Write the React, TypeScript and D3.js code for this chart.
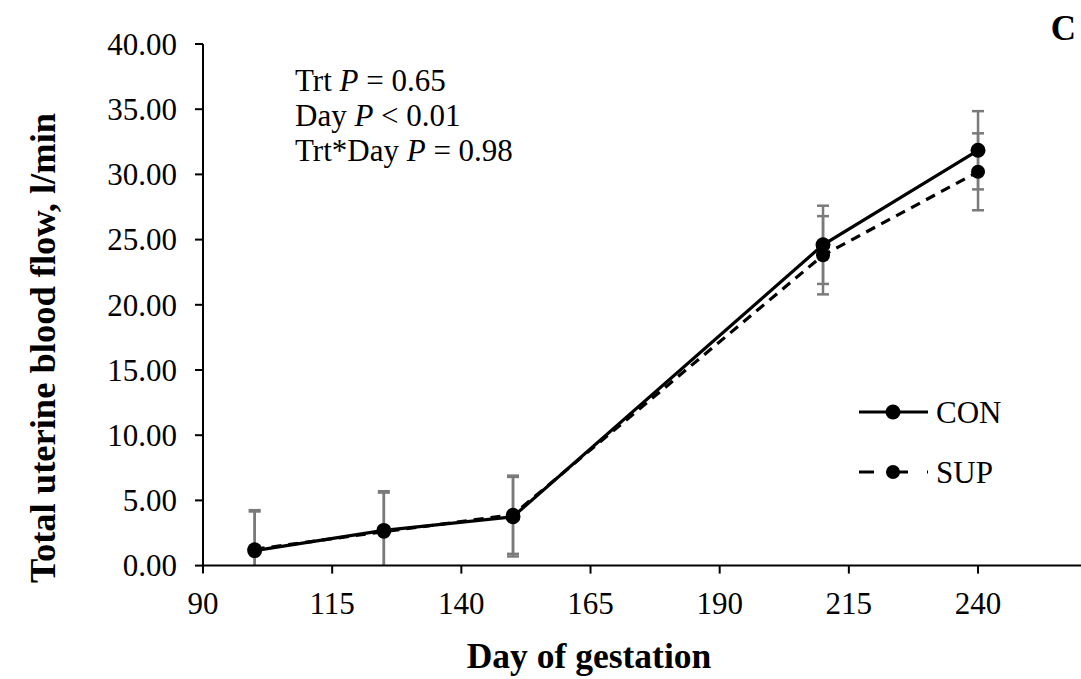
import React from "react";
import * as d3 from "d3";

const days = [100, 125, 150, 210, 240];
const conValues = [1.15, 2.7, 3.75, 24.6, 31.85];
const supValues = [1.25, 2.6, 3.9, 23.8, 30.2];
const conErr = [3.0, 3.0, 3.05, 3.0, 3.0];
const supErr = [3.0, 3.0, 3.0, 3.0, 2.95];
const xTicks = [90, 115, 140, 165, 190, 215, 240];
const yTicks = [0, 5, 10, 15, 20, 25, 30, 35, 40];
const statLines = [
  { pre: "Trt ", post: " = 0.65" },
  { pre: "Day ", post: " < 0.01" },
  { pre: "Trt*Day ", post: " = 0.98" },
];
const seriesNames = ["CON", "SUP"];

const W = 1081;
const H = 679;
const FONT = "'Liberation Serif', 'Times New Roman', serif";

export default function App() {
  const x = d3.scaleLinear().domain([90, 265]).range([203, 1107.2]);
  const y = d3.scaleLinear().domain([0, 40]).range([565.6, 44]);
  const line = d3
    .line<number>()
    .x((_, i) => x(days[i]))
    .y((d) => y(d));

  const series = [
    { name: seriesNames[0], vals: conValues, err: conErr, dash: undefined as string | undefined, r: 7.5 },
    { name: seriesNames[1], vals: supValues, err: supErr, dash: "10,7", r: 7 },
  ];

  const gray = "#7a7a7a";

  return (
    <div style={{ position: "absolute", left: 0, top: 0 }}>
      <svg width={W} height={H} style={{ display: "block", background: "#fff", fontFamily: FONT }}>
        <rect x={0} y={0} width={W} height={H} fill="#fff" />
        {/* error bars */}
        {series.map((s) =>
          s.vals.map((v, i) => {
            const cx = x(days[i]);
            const hi = v + s.err[i];
            const lo = Math.max(0, v - s.err[i]);
            return (
              <g key={s.name + i} stroke={gray} strokeWidth={2.5}>
                <line x1={cx} x2={cx} y1={y(hi)} y2={y(lo)} />
                <line x1={cx - 6} x2={cx + 6} y1={y(hi)} y2={y(hi)} />
                {v - s.err[i] > 0 && <line x1={cx - 6} x2={cx + 6} y1={y(lo)} y2={y(lo)} />}
              </g>
            );
          })
        )}
        {/* axes */}
        <line x1={203} x2={203} y1={y(40)} y2={y(0)} stroke="#000" strokeWidth={2} />
        <line x1={203} x2={W} y1={y(0)} y2={y(0)} stroke="#000" strokeWidth={2} />
        {yTicks.map((t) => (
          <g key={"y" + t}>
            <line x1={195} x2={203} y1={y(t)} y2={y(t)} stroke="#000" strokeWidth={2} />
            <text x={177} y={y(t)} dy="0.35em" textAnchor="end" fontSize={31} fill="#000">
              {t.toFixed(2)}
            </text>
          </g>
        ))}
        {xTicks.map((t) => (
          <g key={"x" + t}>
            <line x1={x(t)} x2={x(t)} y1={y(0)} y2={y(0) + 8} stroke="#000" strokeWidth={2} />
            <text x={x(t)} y={614} textAnchor="middle" fontSize={31} fill="#000">
              {t}
            </text>
          </g>
        ))}
        {/* lines */}
        {series.map((s) => (
          <path
            key={"l" + s.name}
            d={line(s.vals) || ""}
            fill="none"
            stroke="#000"
            strokeWidth={3.2}
            strokeDasharray={s.dash}
          />
        ))}
        {series.map((s) =>
          s.vals.map((v, i) => (
            <circle key={"c" + s.name + i} cx={x(days[i])} cy={y(v)} r={s.r} fill="#000" />
          ))
        )}
        {/* stats text */}
        {statLines.map((l, i) => (
          <text key={"s" + i} x={295} y={91 + i * 35} fontSize={31} fill="#000">
            {l.pre}
            <tspan fontStyle="italic">P</tspan>
            {l.post}
          </text>
        ))}
        {/* legend */}
        {series.map((s, i) => {
          const ly = 412 + i * 60;
          return (
            <g key={"lg" + s.name}>
              <line x1={859} x2={928} y1={ly} y2={ly} stroke="#000" strokeWidth={3.2} strokeDasharray={s.dash ? "15,19" : undefined} />
              <circle cx={893} cy={ly} r={s.r} fill="#000" />
              <text x={936} y={ly} dy="0.35em" fontSize={31} fill="#000">
                {s.name}
              </text>
            </g>
          );
        })}
        {/* axis titles */}
        <text x={589} y={668} textAnchor="middle" fontSize={35.5} fontWeight="bold" fill="#000">
          Day of gestation
        </text>
        <text
          transform={`translate(55,${348}) rotate(-90)`}
          textAnchor="middle"
          fontSize={36.5}
          fontWeight="bold"
          fill="#000"
        >
          Total uterine blood flow, l/min
        </text>
        <text x={1076} y={40} textAnchor="end" fontSize={35} fontWeight="bold" fill="#000">
          C
        </text>
      </svg>
    </div>
  );
}
